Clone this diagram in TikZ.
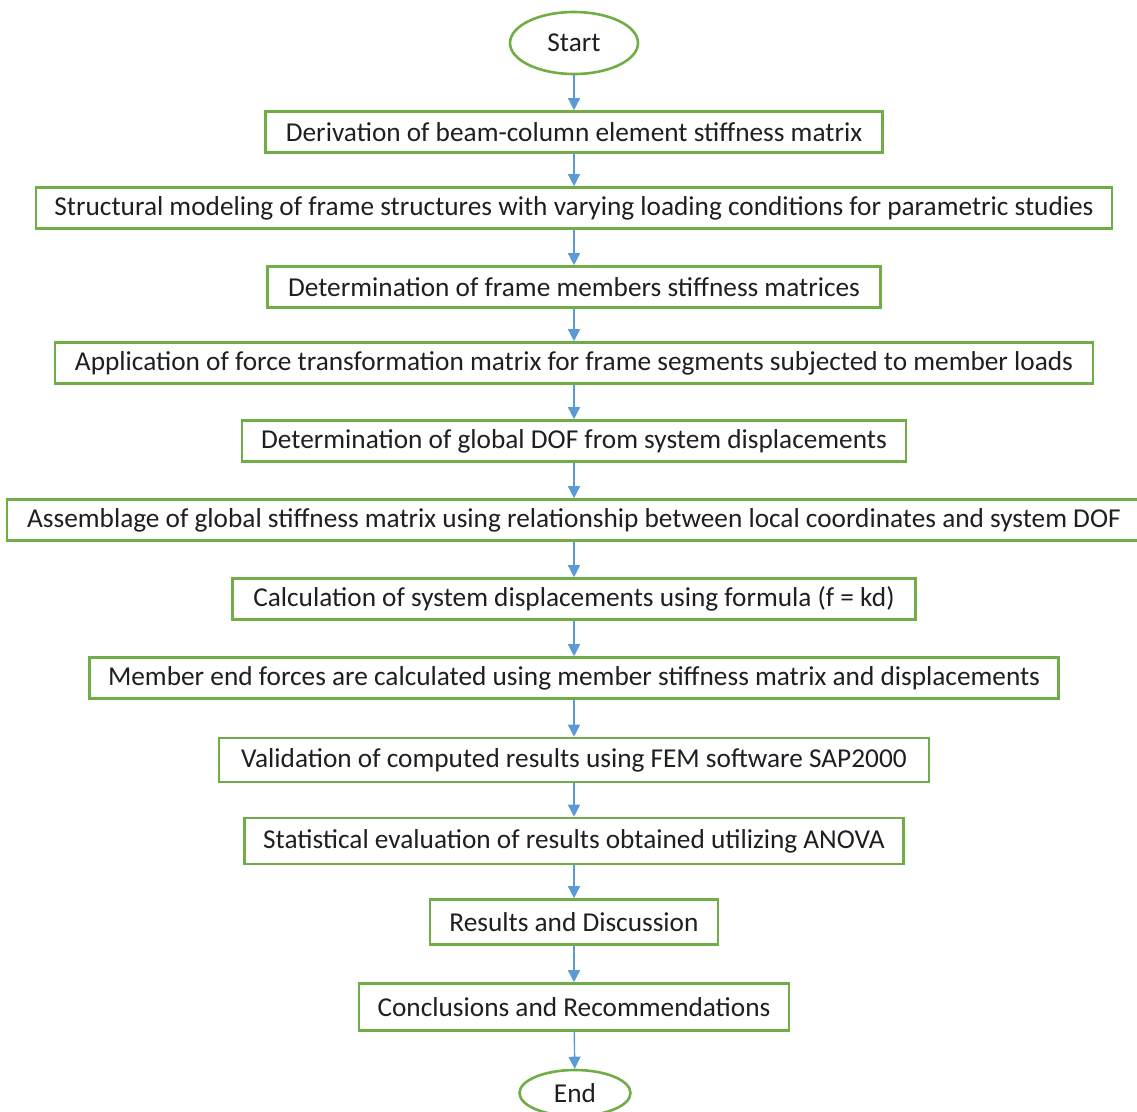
\documentclass[tikz,border=0pt]{standalone}
\usepackage{fontspec}
\setmainfont{Carlito}
\usetikzlibrary{arrows.meta,shapes.geometric}
\definecolor{boxgreen}{HTML}{70AD47}
\definecolor{arrowblue}{HTML}{5B9BD5}

\begin{document}
\begin{tikzpicture}[x=1pt,y=-1pt,
  every node/.style={font=\fontsize{27.3}{32}\selectfont, text=black!88},
  stepbox/.style={draw=boxgreen, line width=2.6pt, rectangle, minimum height=41pt, inner xsep=0pt},
  terminal/.style={draw=boxgreen, line width=2.6pt, ellipse, inner sep=0pt},
  flow/.style={draw=arrowblue, line width=1.4pt, -{Triangle[width=12pt,length=12pt]}}]
\useasboundingbox (0,0) rectangle (1137,1111);

\node[terminal, minimum width=128pt, minimum height=62pt] (start) at (574,43) {Start};
\node[stepbox, minimum width=617pt] (deriv)  at (574,132) {Derivation of beam-column element stiffness matrix};
\node[stepbox, minimum width=1076pt] (model) at (574,208) {Structural modeling of frame structures with varying loading conditions for parametric studies};
\node[stepbox, minimum width=613pt] (member) at (574,287) {Determination of frame members stiffness matrices};
\node[stepbox, minimum width=1038pt] (force) at (574,363) {Application of force transformation matrix for frame segments subjected to member loads};
\node[stepbox, minimum width=664pt] (dof)    at (574,441) {Determination of global DOF from system displacements};
\node[stepbox, minimum width=1134pt] (assem) at (574,520) {Assemblage of global stiffness matrix using relationship between local coordinates and system DOF};
\node[stepbox, minimum width=683pt] (displ)  at (574,599) {Calculation of system displacements using formula (f = kd)};
\node[stepbox, minimum width=969pt] (endf)   at (574,678) {Member end forces are calculated using member stiffness matrix and displacements};
\node[stepbox, minimum width=710pt, minimum height=44pt] (valid) at (574,760) {Validation of computed results using FEM software SAP2000};
\node[stepbox, minimum width=659pt, minimum height=46pt] (anova) at (574,841) {Statistical evaluation of results obtained utilizing ANOVA};
\node[stepbox, minimum width=288pt, minimum height=45pt] (result) at (574,922) {Results and Discussion};
\node[stepbox, minimum width=430pt, minimum height=47pt] (concl) at (574,1007) {Conclusions and Recommendations};
\node[terminal, minimum width=111pt, minimum height=46pt] (finish) at (575,1093) {End};

\draw[flow] (start)  -- (deriv);
\draw[flow] (deriv)  -- (model);
\draw[flow] (model)  -- (member);
\draw[flow] (member) -- (force);
\draw[flow] (force)  -- (dof);
\draw[flow] (dof)    -- (assem);
\draw[flow] (assem)  -- (displ);
\draw[flow] (displ)  -- (endf);
\draw[flow] (endf)   -- (valid);
\draw[flow] (valid)  -- (anova);
\draw[flow] (anova)  -- (result);
\draw[flow] (result) -- (concl);
\draw[flow] (concl)  -- (finish);
\end{tikzpicture}
\end{document}
